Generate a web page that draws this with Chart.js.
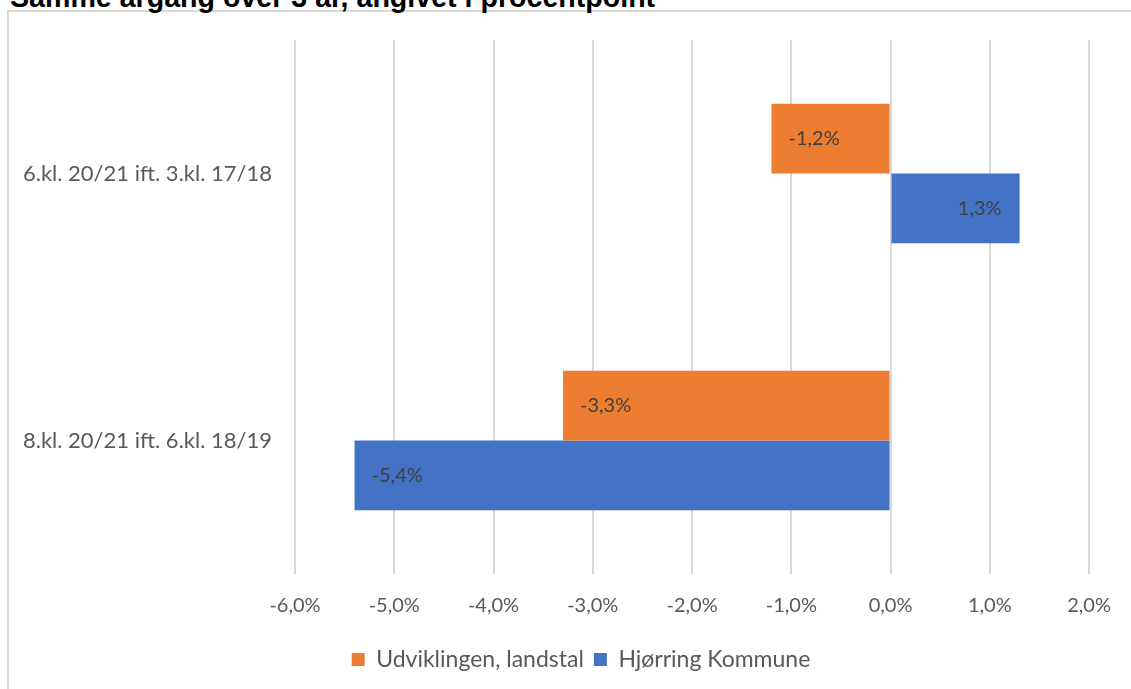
<!DOCTYPE html>
<html>
<head>
<meta charset="utf-8">
<script src="https://cdn.jsdelivr.net/npm/chart.js@4"></script>
<style>
    html, body {
        margin: 0;
        padding: 0;
        background: #ffffff;
        overflow: hidden;
    }

    #page {
        position: relative;
        width: 1131px;
        height: 689px;
        overflow: hidden;
    }

    #frame {
        position: absolute;
        left: 7px;
        top: 10px;
        width: 1200px;
        height: 800px;
        border: 2px solid #d9d9d9;
        box-sizing: border-box;
    }

    #title {
        position: absolute;
        left: 10px;
        top: -18px;
        font-family: "Liberation Sans", Arial, sans-serif;
        font-weight: bold;
        font-size: 28.6px;
        line-height: 30px;
        color: #000000;
        white-space: nowrap;
    }

    #chartBox {
        position: absolute;
        left: 0;
        top: 0;
        width: 1131px;
        height: 689px;
    }
</style>
</head>
<body>
<div id="page">
    <div id="frame"></div>
    <div id="title">Samme årgang over 3 år, angivet i procentpoint</div>
    <div id="chartBox"><canvas id="changeChart" width="1131" height="689"></canvas></div>
</div>

<script>
const categories = [
    "6.kl. 20/21 ift. 3.kl. 17/18",
    "8.kl. 20/21 ift. 6.kl. 18/19"
];

const seriesNames = ["Udviklingen, landstal", "Hjørring Kommune"];

const nationalValues = [-1.2, -3.3];
const hjoerringValues = [1.3, -5.4];

const tickMin = -6;
const tickMax = 2;


function formatPercent(value) {
    return Number(value).toFixed(1).replace(".", ",") + "%";
}


// labels drawn just inside the outer end of each bar
const barLabels = {
    id: "barLabels",

    afterDatasetsDraw: function (chart) {
        const ctx = chart.ctx;

        ctx.save();
        ctx.font = "20px Lato";
        ctx.fillStyle = "#404040";
        ctx.textBaseline = "middle";

        chart.data.datasets.forEach(function (dataset, datasetIndex) {
            const meta = chart.getDatasetMeta(datasetIndex);

            meta.data.forEach(function (bar, index) {
                const value = dataset.data[index];
                const text = formatPercent(value);

                if (value < 0) {
                    ctx.textAlign = "left";
                    ctx.fillText(text, bar.x + 17, bar.y);
                } else {
                    ctx.textAlign = "right";
                    ctx.fillText(text, bar.x - 18, bar.y);
                }
            });
        });

        ctx.restore();
    }
};


// Excel centres the legend on the whole frame, not on the label column
const legendShift = {
    id: "legendShift",

    afterLayout: function (chart) {
        if (chart.legend) {
            chart.legend.left += 25;
            chart.legend.right += 25;
        }
    }
};


new Chart(document.getElementById("changeChart"), {
    type: "bar",

    data: {
        labels: categories,

        datasets: [
            {
                label: seriesNames[0],
                data: nationalValues,
                backgroundColor: "#ED7D31"
            },
            {
                label: seriesNames[1],
                data: hjoerringValues,
                backgroundColor: "#4472C4"
            }
        ]
    },

    options: {
        indexAxis: "y",
        responsive: false,
        animation: false,
        devicePixelRatio: 1,

        categoryPercentage: 0.523,
        barPercentage: 1,

        layout: {
            padding: {
                top: 40,
                left: 20,
                right: 39,
                bottom: 8
            }
        },

        scales: {
            x: {
                min: tickMin,
                max: tickMax,

                border: {
                    display: false
                },

                grid: {
                    color: "#d9d9d9",
                    lineWidth: 2,
                    drawTicks: false
                },

                ticks: {
                    stepSize: 1,
                    padding: 20,
                    color: "#595959",
                    font: {
                        family: "Lato",
                        size: 20
                    },
                    callback: function (value) {
                        return formatPercent(value);
                    }
                },

                afterFit: function (scale) {
                    scale.height = 64;
                }
            },

            y: {
                border: {
                    display: false
                },

                grid: {
                    display: false,
                    drawTicks: false
                },

                ticks: {
                    padding: 23,
                    color: "#595959",
                    font: {
                        family: "Lato",
                        size: 22
                    }
                },

                afterFit: function (scale) {
                    scale.width = 275;
                }
            }
        },

        plugins: {
            legend: {
                position: "bottom",

                labels: {
                    boxWidth: 13,
                    boxHeight: 13,
                    padding: 10,
                    color: "#595959",
                    font: {
                        family: "Lato",
                        size: 23
                    }
                }
            },

            tooltip: {
                enabled: false
            }
        }
    },

    plugins: [barLabels, legendShift]
});
</script>
</body>
</html>
